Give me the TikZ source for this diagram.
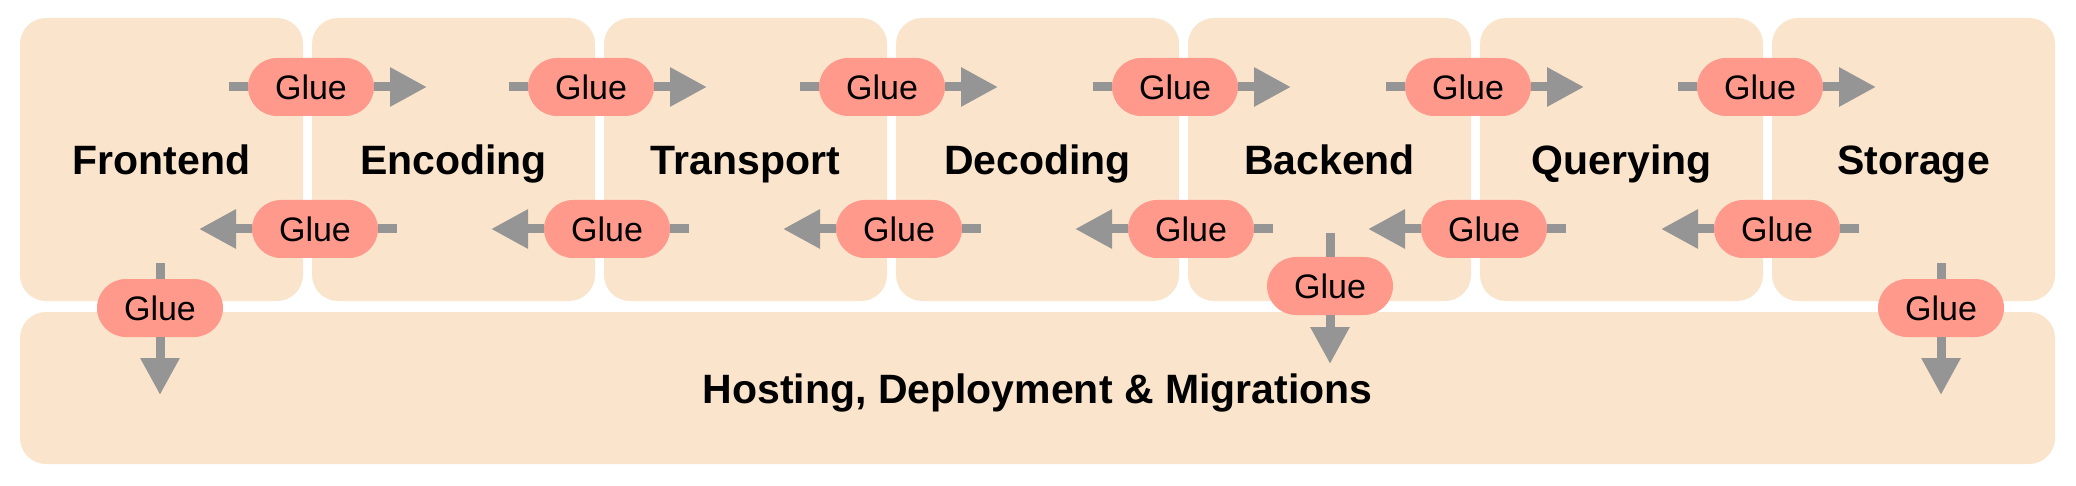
\documentclass[tikz,border=0pt]{standalone}
\usepackage{fontspec}
\setmainfont{Liberation Sans}
\usetikzlibrary{arrows.meta}
\definecolor{boxfill}{HTML}{FAE5CC}
\definecolor{gluefill}{HTML}{FF998C}
\definecolor{arrowgray}{HTML}{959595}
\begin{document}
\begin{tikzpicture}[x=0.5pt,y=-0.5pt,
  layerbox/.style={fill=boxfill, rounded corners=13pt, inner sep=0pt, minimum width=141.5pt, minimum height=141.5pt},
  basebox/.style={fill=boxfill, rounded corners=13pt, inner sep=0pt, minimum width=1017.5pt, minimum height=76pt},
  title/.style={font=\fontsize{20.5}{24}\selectfont\bfseries, anchor=base, inner sep=0pt},
  glue/.style={fill=gluefill, rounded corners=14.5pt, inner sep=0pt, minimum width=63pt, minimum height=29pt, font=\fontsize{17}{20}\selectfont},
  conn/.style={draw=arrowgray, line width=4.5pt},
  tip/.style={-{Triangle[length=18.5pt, width=18.5pt]}, draw=arrowgray, fill=arrowgray, line width=4.5pt}
]
\useasboundingbox (0,0) rectangle (2076,486);
% layer boxes
\node[layerbox] (b1) at (161.5,159.5) {};
\node[layerbox] (b2) at (453.5,159.5) {};
\node[layerbox] (b3) at (745.5,159.5) {};
\node[layerbox] (b4) at (1037.5,159.5) {};
\node[layerbox] (b5) at (1329.5,159.5) {};
\node[layerbox] (b6) at (1621.5,159.5) {};
\node[layerbox] (b7) at (1913.5,159.5) {};
\node[basebox] (host) at (1037.5,388) {};
\node[title] (t1) at (161.5,175) {Frontend};
\node[title] (t2) at (453.5,175) {Encoding};
\node[title] (t3) at (745.5,175) {Transport};
\node[title] (t4) at (1037.5,175) {Decoding};
\node[title] (t5) at (1329.5,175) {Backend};
\node[title] (t6) at (1621.5,175) {Querying};
\node[title] (t7) at (1913.5,175) {Storage};
\node[title] (th) at (1037.5,403) {Hosting, Deployment \& Migrations};
% forward glues (top row)
\foreach \i/\x in {1/311,2/591,3/882,4/1175,5/1468,6/1760}{
  \node[glue] (gf\i) at (\x,87) {Glue};
  \coordinate (gfs\i) at (\x-82,87);
  \coordinate (gfe\i) at (\x+116,87);
  \draw[conn] (gfs\i) -- (gf\i.west);
  \draw[tip] (gf\i.east) -- (gfe\i);
}
% backward glues (bottom row)
\foreach \i/\x in {1/315,2/607,3/899,4/1191,5/1484,6/1777}{
  \node[glue] (gb\i) at (\x,229) {Glue};
  \coordinate (gbs\i) at (\x+82,229);
  \coordinate (gbe\i) at (\x-116,229);
  \draw[conn] (gbs\i) -- (gb\i.east);
  \draw[tip] (gb\i.west) -- (gbe\i);
}
% downward glues
\foreach \i/\x/\y/\s/\e in {1/160/308/263/395,2/1330/286/233/364,3/1941/308/263/395}{
  \node[glue] (gd\i) at (\x,\y) {Glue};
  \coordinate (gds\i) at (\x,\s);
  \coordinate (gde\i) at (\x,\e);
  \draw[conn] (gds\i) -- (gd\i.north);
  \draw[tip] (gd\i.south) -- (gde\i);
}
\end{tikzpicture}
\end{document}
